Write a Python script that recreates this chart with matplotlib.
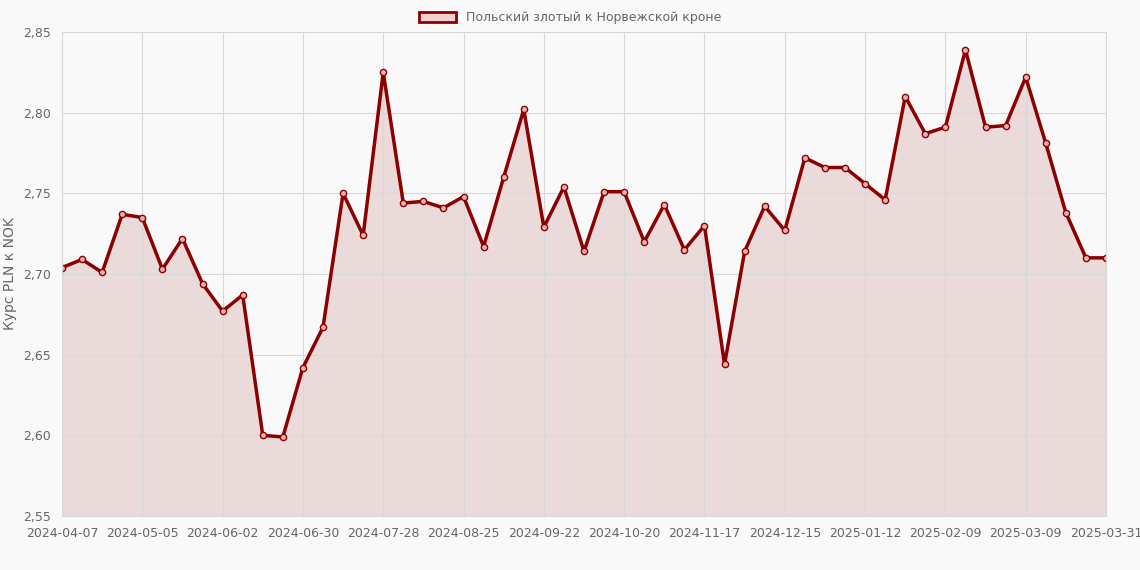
import matplotlib
matplotlib.use("Agg")
import matplotlib.pyplot as plt
from matplotlib.patches import Patch
import numpy as np

rates = [2.704, 2.709, 2.701, 2.737, 2.735, 2.703, 2.722, 2.694, 2.677, 2.687,
         2.600, 2.599, 2.642, 2.667, 2.750, 2.724, 2.825, 2.744, 2.745, 2.741,
         2.748, 2.717, 2.760, 2.802, 2.729, 2.754, 2.714, 2.751, 2.751, 2.720,
         2.743, 2.715, 2.730, 2.644, 2.714, 2.742, 2.727, 2.772, 2.766, 2.766,
         2.756, 2.746, 2.810, 2.787, 2.791, 2.839, 2.791, 2.792, 2.822, 2.781,
         2.738, 2.710, 2.710]
tick_labels = ["2024-04-07", "2024-05-05", "2024-06-02", "2024-06-30", "2024-07-28",
               "2024-08-25", "2024-09-22", "2024-10-20", "2024-11-17", "2024-12-15",
               "2025-01-12", "2025-02-09", "2025-03-09", "2025-03-31"]
y_ticks = [2.55, 2.60, 2.65, 2.70, 2.75, 2.80, 2.85]

LINE = "#8b0000"
x = np.arange(len(rates))

fig = plt.figure(figsize=(11.4, 5.7), dpi=100, facecolor="#f9f9f9")
ax = fig.add_axes([62 / 1140, 1 - 516 / 570, (1106 - 62) / 1140, (516 - 32) / 570])
ax.set_facecolor("#f9f9f9")

ax.fill_between(x, rates, 2.55, color=LINE, alpha=0.12, linewidth=0)
ax.plot(x, rates, color=LINE, linewidth=2.5, marker="o", markersize=4.5,
        markerfacecolor="#e8b0b0", markeredgecolor=LINE, markeredgewidth=1)

ax.set_xlim(0, len(rates) - 1)
ax.set_ylim(2.55, 2.85)
ax.set_xticks(list(range(0, len(rates) - 1, 4)) + [len(rates) - 1])
ax.set_xticklabels(tick_labels)
ax.set_yticks(y_ticks)
ax.set_yticklabels([f"{v:.2f}".replace(".", ",") for v in y_ticks])
ax.tick_params(colors="#666666", labelsize=9, length=0, pad=8)
ax.grid(True, color="#d8d8d8", linewidth=0.8)
for s in ax.spines.values():
    s.set_color("#d8d8d8")
ax.set_ylabel("Курс PLN к NOK", color="#666666", fontsize=10)

fig.legend(handles=[Patch(facecolor="#f0d0d0", edgecolor=LINE, linewidth=2,
                          label="Польский злотый к Норвежской кроне")],
           loc="upper center", bbox_to_anchor=(0.5, 1.0), frameon=False,
           fontsize=9, labelcolor="#666666", handlelength=3, handleheight=0.9)

fig.savefig("out.png", dpi=100, facecolor=fig.get_facecolor())
